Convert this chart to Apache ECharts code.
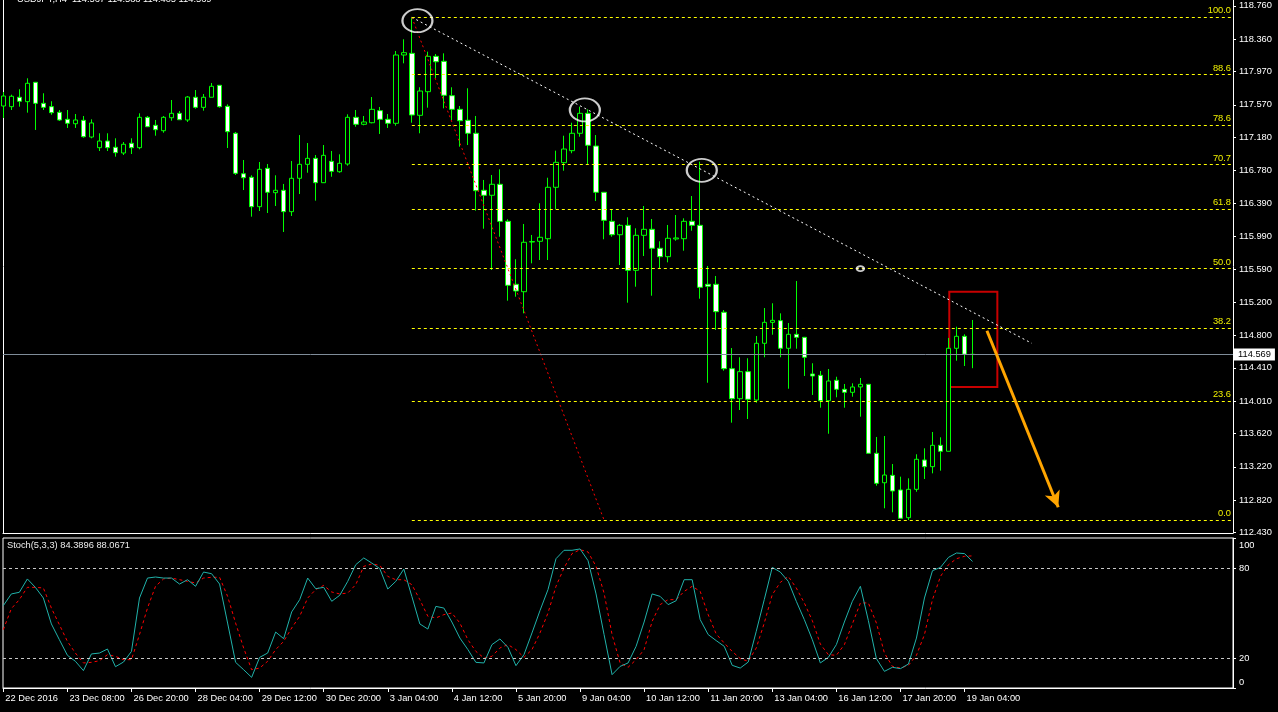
<!DOCTYPE html>
<html>
<head>
<meta charset="utf-8">
<script src="https://cdn.jsdelivr.net/npm/echarts@6/dist/echarts.min.js"></script>
<style>
html,body{margin:0;padding:0;background:#000;}
#c{width:1278px;height:712px;}
</style>
</head>
<body>
<div id="c"></div>
<script>
// ---------- DATA ----------
const openP = [117.556,117.548,117.661,117.608,117.841,117.588,117.548,117.480,117.396,117.343,
117.384,117.183,117.055,117.135,117.060,116.991,117.108,117.055,117.420,117.324,
117.259,117.415,117.468,117.388,117.661,117.540,117.661,117.805,117.552,117.228,
116.742,116.699,116.346,116.807,116.514,116.543,116.286,116.687,116.855,116.927,
116.634,116.891,116.766,116.859,117.420,117.336,117.355,117.500,117.396,117.348,
118.169,118.189,117.444,117.728,118.153,118.093,117.680,117.516,117.384,117.228,
116.543,116.483,116.615,116.170,115.413,115.324,115.921,115.930,115.961,116.579,
116.875,117.019,117.228,117.468,117.075,116.519,116.170,116.009,116.122,115.581,
116.002,116.074,115.846,115.745,115.958,115.961,116.170,116.122,115.413,115.413,
115.077,114.399,114.038,114.363,114.022,114.704,114.956,114.976,114.644,114.812,
114.776,114.335,114.319,114.014,114.259,114.151,114.115,114.179,114.211,113.382,
113.028,113.117,112.941,112.608,112.949,113.301,113.221,113.478,113.406,114.644,
114.788,114.572];
const highP = [117.724,117.692,117.757,117.889,117.844,117.709,117.613,117.508,117.508,117.460,
117.436,117.396,117.228,117.228,117.168,117.123,117.168,117.468,117.436,117.388,
117.436,117.628,117.496,117.676,117.748,117.700,117.832,117.808,117.576,117.244,
116.907,116.723,116.883,116.859,116.723,116.619,116.895,117.207,117.111,116.967,
117.087,117.015,116.975,117.456,117.508,117.436,117.664,117.544,117.460,118.217,
118.358,118.622,117.781,118.209,118.181,118.189,117.781,117.556,117.769,117.436,
116.667,116.727,116.795,116.194,115.714,116.138,116.006,116.387,116.694,117.019,
117.199,117.355,117.548,117.516,117.207,116.522,116.314,116.138,116.218,116.086,
116.354,116.198,115.930,116.126,116.246,116.206,116.474,116.887,115.633,115.513,
115.104,114.647,114.536,114.524,114.792,115.128,115.185,115.064,114.948,115.453,
114.780,114.464,114.371,114.395,114.302,114.215,114.223,114.287,114.215,113.578,
113.590,113.253,113.101,113.081,113.370,113.442,113.638,113.574,114.768,114.903,
114.812,114.984];
const lowP = [117.412,117.508,117.548,117.476,117.268,117.508,117.451,117.376,117.292,117.292,
117.175,117.168,117.015,117.015,116.947,116.967,116.979,117.036,117.304,117.199,
117.235,117.379,117.388,117.364,117.524,117.500,117.661,117.536,117.051,116.727,
116.546,116.226,116.294,116.270,116.354,116.042,116.234,116.498,116.754,116.418,
116.631,116.706,116.754,116.839,117.307,117.324,117.348,117.220,117.292,117.319,
118.069,117.355,117.228,117.536,117.889,117.528,117.388,117.067,117.087,116.298,
116.081,115.585,115.985,115.216,115.264,115.064,115.665,115.705,115.705,116.314,
116.778,116.988,117.187,116.859,116.414,115.954,115.985,115.645,115.192,115.384,
115.753,115.276,115.609,115.677,115.937,115.817,116.057,115.240,114.230,114.864,
114.375,113.750,113.902,113.794,113.990,114.536,114.807,114.536,114.158,114.639,
114.311,114.083,113.930,113.617,114.055,113.930,114.062,113.822,113.382,112.992,
112.721,112.673,112.601,112.580,112.920,113.073,113.141,113.173,113.406,114.495,
114.431,114.405];
const closeP = [117.676,117.673,117.613,117.829,117.588,117.540,117.476,117.388,117.348,117.388,
117.187,117.352,117.135,117.055,116.995,117.096,117.055,117.420,117.307,117.271,
117.420,117.468,117.391,117.664,117.540,117.661,117.793,117.548,117.247,116.747,
116.694,116.346,116.795,116.519,116.543,116.286,116.687,116.855,116.927,116.634,
116.963,116.771,116.867,117.420,117.336,117.364,117.516,117.396,117.348,118.169,
118.197,117.448,117.736,118.153,118.088,117.685,117.516,117.379,117.228,116.538,
116.483,116.615,116.170,115.401,115.333,115.918,115.927,115.978,116.579,116.879,
117.039,117.228,117.468,117.084,116.519,116.182,116.009,116.122,115.581,116.002,
116.074,115.846,115.745,115.966,115.970,116.170,116.122,115.377,115.389,115.084,
114.399,114.038,114.363,114.031,114.704,114.956,114.980,114.644,114.812,114.776,
114.536,114.311,114.014,114.251,114.151,114.115,114.179,114.211,113.382,113.021,
113.121,112.929,112.601,112.949,113.310,113.221,113.478,113.406,114.644,114.788,
114.572,114.569];

const stochK = [54.9,62.7,63.8,72.7,67.1,60,42.7,32.2,21.8,17.8,
11.6,22.7,23.3,26,14.2,17.3,24.4,60,73.3,74,
73.3,73.3,69.3,72.2,67.8,77.3,76.2,69.3,43.3,17.1,
12.2,7.1,20.4,23.3,37.3,32.9,50.7,58.9,73.3,66.2,
67.1,57.8,61.8,71.1,82.2,86.7,83.3,79.6,66,71.1,
79.3,61.1,42.7,39.3,54.4,53.3,44,33.3,25.6,17.1,
16.7,28.9,32.7,27.1,14.9,22.2,36.7,51.6,65.6,86.2,
91.8,91.8,92.7,84.9,62.7,35.6,8.9,14.4,16.7,27.8,
44,62.7,61.1,55.6,58.2,72.2,72.2,45.6,35.6,31.6,
27.8,15.1,13.3,17.3,37.8,58.9,80.4,77.3,71.1,57.8,
45.6,32.2,16.7,20.4,28.9,44,57.8,67.8,44.9,19.6,
11.1,13.8,12.9,16,33.3,60,78.2,80.4,87.1,90,
89.6,84.39];
const stochD = [38.9,52.9,58.9,67.1,67.1,66.7,53.3,42.2,31.1,23.3,
16.7,17.1,18.2,22.2,21.1,18.9,18.9,35.6,53.3,67.8,
72.7,73.3,72.2,71.1,70,73.3,73.8,73.8,61.1,43.3,
26.7,12.2,13.3,17.8,25.6,31.1,40,47.8,60,65.6,
68.4,64,62.7,63.3,68.9,81.1,82.7,81.8,74.4,72.2,
72.2,68.9,58.9,47.8,46.7,48.9,50,43.3,32.2,24.4,
20,21.1,26.7,28.9,25.6,20.4,25.6,36.7,50,67.8,
80,89.6,92.2,90.7,81.1,63.3,35.6,16.7,13.8,18.9,
25.6,44.4,55.6,58.9,58.9,64.4,67.8,64.4,48.9,36,
30,24.4,19.6,17.8,26.7,43.3,62.2,70.4,74.4,66.7,
56.7,44.9,29.3,22.2,21.8,28.9,42.7,56.7,56.7,43.3,
23.3,14.4,13.3,15.1,21.8,35.6,58.9,74.4,82.2,86.2,
87.8,88.07];

const timeTickLabels = ['22 Dec 2016','23 Dec 08:00','26 Dec 20:00','28 Dec 04:00','29 Dec 12:00',
'30 Dec 20:00','3 Jan 04:00','4 Jan 12:00','5 Jan 20:00','9 Jan 04:00','10 Jan 12:00',
'11 Jan 20:00','13 Jan 04:00','16 Jan 12:00','17 Jan 20:00','19 Jan 04:00'];
const barsPerTimeLabel = 8;
const priceTickLabels = ['118.760','118.360','117.970','117.570','117.180','116.780','116.390',
'115.990','115.590','115.200','114.800','114.410','114.010','113.620','113.220','112.820','112.430'];
const stochTickValues = [0, 20, 80, 100];
const stochLevels = [20, 80];

const fibLevelNames = ['0.0','23.6','38.2','50.0','61.8','70.7','78.6','88.6','100.0'];
const fibLevelPrices = [112.580,114.006,114.888,115.601,116.314,116.852,117.329,117.933,118.622];
const fibDiagonal = [[51, 118.622], [75, 112.580]];
const fibCenter = [[107, 115.601]];
const trendLine = [[51, 118.622], [128.4, 114.704]];
const peakCircles = [[51.7, 118.581], [72.6, 117.508], [87.2, 116.783]];
const boxCorners = [[118.1, 115.324], [124.1, 114.178]];
const arrowPoints = [[122.8, 114.855], [131.7, 112.733]];
const currentPrice = 114.569;
const headerText = 'USDJPY,H4  114.567 114.588 114.405 114.569';
const stochText = 'Stoch(5,3,3) 84.3896 88.0671';

// ---------- CHART ----------
const FONT = 'Liberation Sans';
const FS = 9.3;
const X_MIN = -0.04, X_MAX = 153.52;
const Y_MIN = 112.424, Y_MAX = 118.830;

const candleData = openP.map((o, i) => [i, o, closeP[i], lowP[i], highP[i]]);
const timeTickValues = timeTickLabels.map((_, k) => k * barsPerTimeLabel);
const priceTickValues = priceTickLabels.map(Number);

const chart = echarts.init(document.getElementById('c'), null, {renderer: 'canvas'});
const txt = {color: '#fff', fontSize: FS, fontFamily: FONT, fontWeight: 'normal'};

const option = {
  backgroundColor: '#000',
  animation: false,
  textStyle: {fontFamily: FONT},
  title: [
    {text: headerText, left: 17, top: -5, padding: 0, textStyle: txt},
    {text: stochText, left: 7, top: 541, padding: 0, textStyle: Object.assign({}, txt, {color: '#ececec'})}
  ],
  grid: [
    {left: 3, top: 0, width: 1230, height: 533, show: false},
    {left: 3, top: 538, width: 1230, height: 150, show: true, borderColor: '#fff', borderWidth: 1, backgroundColor: 'transparent'}
  ],
  xAxis: [
    {type: 'value', gridIndex: 0, min: X_MIN, max: X_MAX,
      axisLine: {show: true, onZero: false, lineStyle: {color: '#fff', width: 1}},
      axisTick: {show: false}, axisLabel: {show: false}, splitLine: {show: false}},
    {type: 'value', gridIndex: 1, min: X_MIN, max: X_MAX,
      axisLine: {show: true, onZero: false, lineStyle: {color: '#fff', width: 1}},
      axisTick: {show: true, length: 4, customValues: timeTickValues, lineStyle: {color: '#fff'}},
      axisLabel: {show: true, customValues: timeTickValues, color: '#fff', fontSize: FS, fontFamily: FONT,
        align: 'left', margin: 6, padding: [0, 0, 0, 2],
        formatter: v => timeTickLabels[Math.round(v / barsPerTimeLabel)] || ''},
      splitLine: {show: false}}
  ],
  yAxis: [
    {type: 'value', gridIndex: 0, position: 'right', min: Y_MIN, max: Y_MAX,
      axisLine: {show: true, onZero: false, lineStyle: {color: '#fff', width: 1}},
      axisTick: {show: true, length: 3, customValues: priceTickValues, lineStyle: {color: '#fff'}},
      axisLabel: {show: true, customValues: priceTickValues, color: '#fff', fontSize: FS, fontFamily: FONT, margin: 6,
        formatter: v => v.toFixed(3)},
      splitLine: {show: false}},
    {type: 'value', gridIndex: 0, position: 'left', min: Y_MIN, max: Y_MAX,
      axisLine: {show: true, onZero: false, lineStyle: {color: '#fff', width: 1}},
      axisTick: {show: false}, axisLabel: {show: false}, splitLine: {show: false}},
    {type: 'value', gridIndex: 1, position: 'right', min: 0, max: 100,
      axisLine: {show: true, onZero: false, lineStyle: {color: '#fff', width: 1}},
      axisTick: {show: true, length: 3, customValues: stochTickValues, lineStyle: {color: '#fff'}},
      axisLabel: {show: true, customValues: stochTickValues, color: '#fff', fontSize: FS, fontFamily: FONT, margin: 6,
        formatter: v => v === 100 ? '{t|100}' : (v === 0 ? '{b|0}' : String(v)),
        rich: {
          t: {color: '#fff', fontSize: FS, fontFamily: FONT, padding: [14, 0, 0, 0]},
          b: {color: '#fff', fontSize: FS, fontFamily: FONT, padding: [0, 0, 12, 0]}
        }},
      splitLine: {show: false}}
  ],
  series: [
    {
      type: 'candlestick', xAxisIndex: 0, yAxisIndex: 0, data: candleData, barWidth: 5,
      itemStyle: {color: '#000', color0: '#fff', borderColor: '#00ff00', borderColor0: '#00ff00', borderWidth: 1},
      z: 3,
      markLine: {
        silent: true, symbol: ['none', 'none'], animation: false,
        lineStyle: {color: '#7f8c99', width: 1, type: 'solid'},
        label: {show: true, position: 'end', distance: 1, formatter: currentPrice.toFixed(3),
          backgroundColor: '#fff', color: '#000', fontSize: FS, fontFamily: FONT, padding: [2, 4, 1, 4]},
        data: [{yAxis: currentPrice}]
      }
    },
    {
      type: 'line', xAxisIndex: 0, yAxisIndex: 0, data: fibDiagonal, symbol: 'none', z: 4,
      lineStyle: {color: '#ff0000', width: 1, type: [2, 3]},
      markLine: {
        silent: true, symbol: ['none', 'none'], animation: false,
        lineStyle: {color: '#ffff00', width: 1, type: [3, 3]},
        label: {show: true, position: 'insideEndTop', distance: [2, 2], color: '#f0f000', fontSize: FS, fontFamily: FONT},
        data: fibLevelPrices.map((p, k) => [
          {coord: [fibDiagonal[0][0], p], label: {formatter: fibLevelNames[k]}},
          {coord: [X_MAX, p]}
        ])
      }
    },
    {
      type: 'line', xAxisIndex: 0, yAxisIndex: 0, data: trendLine, symbol: 'none', z: 4,
      lineStyle: {color: '#ffffff', width: 1, type: [2, 3]},
      markArea: {
        silent: true,
        itemStyle: {color: 'rgba(0,0,0,0)', borderColor: '#c80000', borderWidth: 2},
        data: [[{coord: boxCorners[0]}, {coord: boxCorners[1]}]]
      },
      markLine: {
        silent: true, symbol: ['none', 'arrow'], symbolSize: [12, 16], animation: false,
        lineStyle: {color: '#ffa500', width: 3, type: 'solid'},
        label: {show: false},
        data: [[{coord: arrowPoints[0]}, {coord: arrowPoints[1]}]]
      }
    },
    {
      type: 'scatter', xAxisIndex: 0, yAxisIndex: 0, data: peakCircles, symbol: 'circle', symbolSize: [30, 23], z: 5,
      itemStyle: {color: 'rgba(0,0,0,0)', borderColor: '#ffffff', borderWidth: 2}
    },
    {
      type: 'scatter', xAxisIndex: 0, yAxisIndex: 0, data: fibCenter, symbol: 'circle', symbolSize: [7, 5], z: 5,
      itemStyle: {color: 'rgba(0,0,0,0)', borderColor: '#ffffff', borderWidth: 2}
    },
    {
      type: 'line', xAxisIndex: 1, yAxisIndex: 2, data: stochK.map((v, i) => [i, v]), symbol: 'none', z: 4,
      lineStyle: {color: '#20b2aa', width: 1},
      markLine: {
        silent: true, symbol: ['none', 'none'], animation: false,
        lineStyle: {color: '#c8c8c8', width: 1, type: [3, 3]},
        label: {show: false},
        data: stochLevels.map(v => ({yAxis: v}))
      }
    },
    {
      type: 'line', xAxisIndex: 1, yAxisIndex: 2, data: stochD.map((v, i) => [i, v]), symbol: 'none', z: 3,
      lineStyle: {color: '#ff0000', width: 1, type: [3, 3]}
    }
  ]
};
chart.setOption(option);
</script>
</body>
</html>
